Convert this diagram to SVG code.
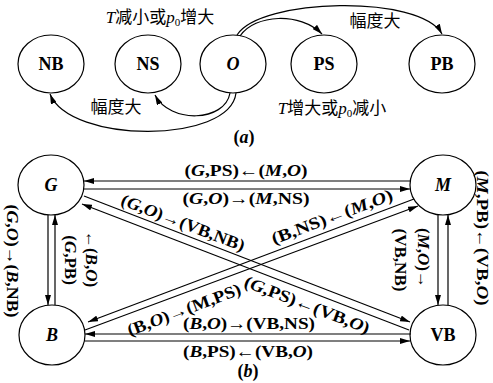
<svg xmlns="http://www.w3.org/2000/svg" width="493" height="383" viewBox="0 0 493 383">
<style>
.n{fill:none;stroke:#000;stroke-width:1.2}
.c{fill:none;stroke:#000;stroke-width:1.2}
.t{font-family:"Liberation Serif","Times New Roman",serif;font-size:18px;font-weight:bold;text-anchor:middle;fill:#000}
.l{font-family:"Liberation Serif","Times New Roman",serif;font-size:17px;font-weight:bold;text-anchor:middle;fill:#000}
.z{font-family:"Liberation Serif","Noto Sans CJK SC",serif;font-size:17px;text-anchor:middle;fill:#000}
.i{font-style:italic}
</style>
<defs>
<marker id="ah" markerWidth="10" markerHeight="6" refX="10" refY="3" orient="auto" markerUnits="userSpaceOnUse"><path d="M0,0 L10,3 L0,6 z" fill="#000"/></marker>
</defs>
<g id="a-NB"><ellipse class="n" cx="51" cy="64" rx="33" ry="29"/><text class="t" x="51" y="70">NB</text></g>
<g id="a-NS"><ellipse class="n" cx="148" cy="64" rx="33" ry="29"/><text class="t" x="148" y="70">NS</text></g>
<g id="a-O"><ellipse class="n" cx="233" cy="64" rx="33" ry="29"/><text class="t i" x="233" y="70">O</text></g>
<g id="a-PS"><ellipse class="n" cx="324" cy="64" rx="33" ry="29"/><text class="t" x="324" y="70">PS</text></g>
<g id="a-PB"><ellipse class="n" cx="442" cy="64" rx="33" ry="29"/><text class="t" x="442" y="70">PB</text></g>
<g id="a-connectors">
<path class="c" d="M240 36 C255 14,300 12,322 34" marker-end="url(#ah)"/>
<path class="c" d="M237 35 C260 -2,420 -6,442 34" marker-end="url(#ah)"/>
<path class="c" d="M230 93 C225 122,170 124,155 95" marker-end="url(#ah)"/>
<path class="c" d="M236 93 C230 144,70 144,50 94" marker-end="url(#ah)"/>
</g>
<g id="a-labels">
<text class="z" x="160" y="23"><tspan class="i">T</tspan>减小或<tspan class="i">p</tspan><tspan font-size="11" dy="3">0</tspan><tspan dy="-3">增大</tspan></text>
<text class="z" x="375" y="27">幅度大</text>
<text class="z" x="332" y="114"><tspan class="i">T</tspan>增大或<tspan class="i">p</tspan><tspan font-size="11" dy="3">0</tspan><tspan dy="-3">减小</tspan></text>
<text class="z" x="116" y="113">幅度大</text>
<text class="t" x="244" y="143">(<tspan class="i">a</tspan>)</text>
</g>
<g id="G"><ellipse class="n" cx="51" cy="185" rx="33" ry="30"/><text class="t i" x="51" y="191">G</text></g>
<g id="M"><ellipse class="n" cx="443" cy="185" rx="33" ry="30"/><text class="t i" x="443" y="191">M</text></g>
<g id="B"><ellipse class="n" cx="52" cy="335" rx="33" ry="30"/><text class="t i" x="52" y="341">B</text></g>
<g id="VB"><ellipse class="n" cx="443" cy="335" rx="33" ry="30"/><text class="t" x="443" y="341">VB</text></g>
<g id="b-connectors">
<path class="c" d="M411 181 L84 181" marker-end="url(#ah)"/>
<path class="c" d="M84 189 L410 189" marker-end="url(#ah)"/>
<path class="c" d="M411 334 L85 334" marker-end="url(#ah)"/>
<path class="c" d="M85 341 L410 341" marker-end="url(#ah)"/>
<path class="c" d="M48 215 L48 305" marker-end="url(#ah)"/>
<path class="c" d="M55 305 L55 215" marker-end="url(#ah)"/>
<path class="c" d="M438 215 L438 305" marker-end="url(#ah)"/>
<path class="c" d="M448 305 L448 215" marker-end="url(#ah)"/>
<path class="c" d="M84 196 L410 322" marker-end="url(#ah)"/>
<path class="c" d="M409 330 L82 204" marker-end="url(#ah)"/>
<path class="c" d="M414 199 L88 322" marker-end="url(#ah)"/>
<path class="c" d="M85 330 L418 206" marker-end="url(#ah)"/>
</g>
<g id="b-labels">
<text class="l" x="246" y="176" textLength="123" lengthAdjust="spacingAndGlyphs">(<tspan class="i">G</tspan>,PS)←(<tspan class="i">M</tspan>,<tspan class="i">O</tspan>)</text>
<text class="l" x="246" y="204" textLength="127" lengthAdjust="spacingAndGlyphs">(<tspan class="i">G</tspan>,<tspan class="i">O</tspan>)→(<tspan class="i">M</tspan>,NS)</text>
<text class="l" x="249" y="329" textLength="132" lengthAdjust="spacingAndGlyphs">(<tspan class="i">B</tspan>,<tspan class="i">O</tspan>)→(VB,NS)</text>
<text class="l" x="248" y="357" textLength="130" lengthAdjust="spacingAndGlyphs">(<tspan class="i">B</tspan>,PS)←(VB,<tspan class="i">O</tspan>)</text>
<text class="t" x="248" y="377">(<tspan class="i">b</tspan>)</text>
<text class="l" transform="translate(181 228) rotate(21)" textLength="131" lengthAdjust="spacingAndGlyphs">(<tspan class="i">G</tspan>,<tspan class="i">O</tspan>)→(VB,NB)</text>
<text class="l" transform="translate(305 310) rotate(21)" textLength="133" lengthAdjust="spacingAndGlyphs">(<tspan class="i">G</tspan>,PS)←(VB,<tspan class="i">O</tspan>)</text>
<text class="l" transform="translate(334 222) rotate(-20.6)" textLength="128" lengthAdjust="spacingAndGlyphs">(B,NS)←(<tspan class="i">M</tspan>,<tspan class="i">O</tspan>)</text>
<text class="l" transform="translate(186 315) rotate(-20.6)" textLength="120" lengthAdjust="spacingAndGlyphs">(B,<tspan class="i">O</tspan>)→(M,PS)</text>
<text class="l" transform="translate(7 261) rotate(90)" textLength="113" lengthAdjust="spacingAndGlyphs">(<tspan class="i">G</tspan>,<tspan class="i">O</tspan>)→(<tspan class="i">B</tspan>,NB)</text>
<text class="l" transform="translate(65 260) rotate(90)">(<tspan class="i">G</tspan>,PB)</text>
<text class="l" transform="translate(86 259) rotate(90)">←(<tspan class="i">B</tspan>,<tspan class="i">O</tspan>)</text>
<text class="l" transform="translate(418 258) rotate(90)">(<tspan class="i">M</tspan>,<tspan class="i">O</tspan>)→</text>
<text class="l" transform="translate(395 260) rotate(90)">(VB,NB)</text>
<text class="l" transform="translate(477 238) rotate(90)" textLength="135" lengthAdjust="spacingAndGlyphs">(<tspan class="i">M</tspan>,PB)←(VB,<tspan class="i">O</tspan>)</text>
</g>
</svg>
